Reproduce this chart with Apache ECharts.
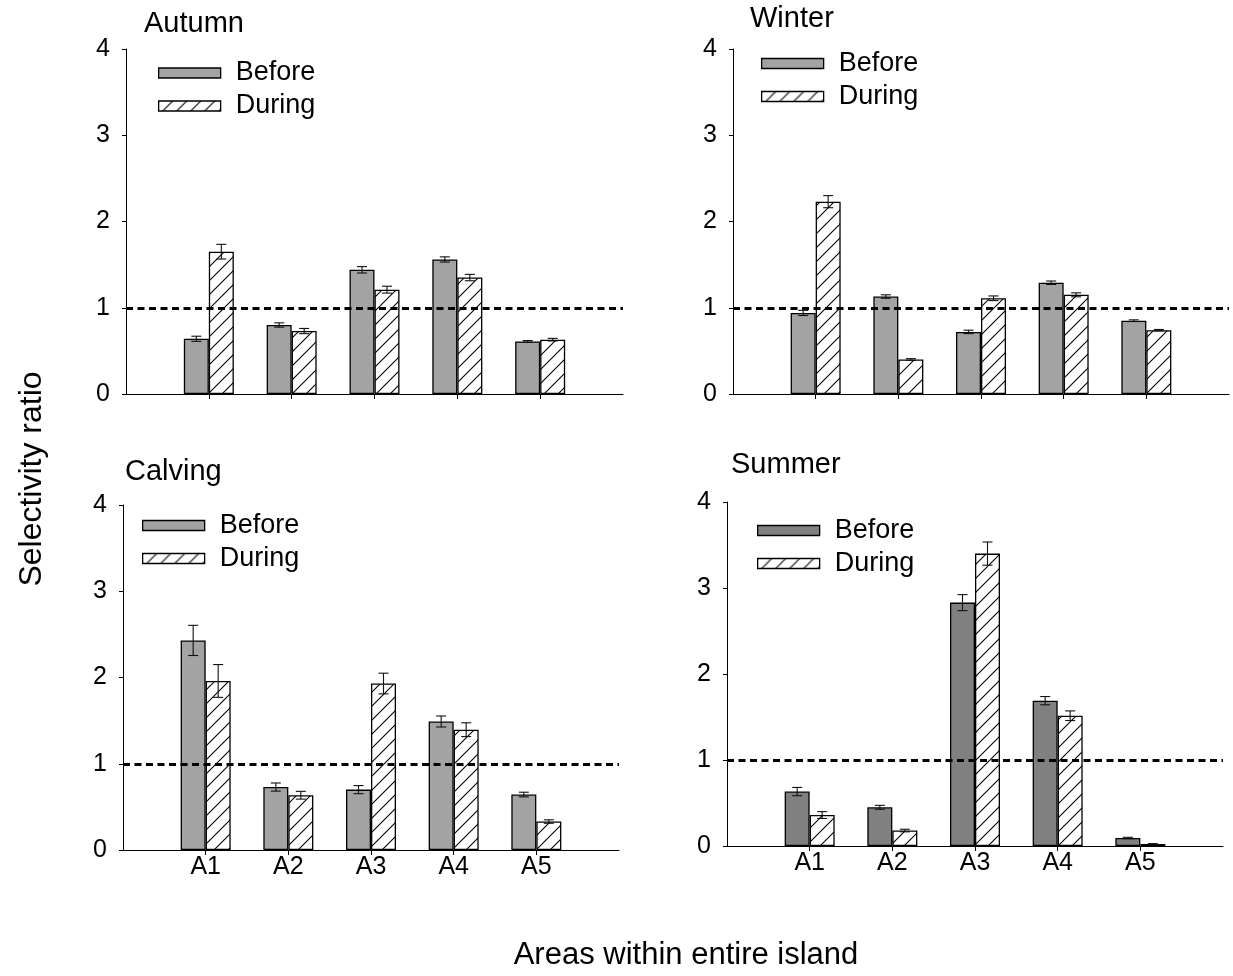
<!DOCTYPE html>
<html>
<head>
<meta charset="utf-8">
<script src="https://cdn.jsdelivr.net/npm/echarts@6/dist/echarts.min.js"></script>
<style>
html,body{margin:0;padding:0;background:#fff;}
#chart{width:1233px;height:976px;}
</style>
</head>
<body>
<div id="chart"></div>
<script>
// ---- data ----
const categories = ['A1', 'A2', 'A3', 'A4', 'A5'];
const yTicks = [0, 1, 2, 3, 4];
const panelTitles = ['Autumn', 'Winter', 'Calving', 'Summer'];
const seriesNames = ['Before', 'During'];

const autumnBefore = [0.64, 0.80, 1.44, 1.56, 0.61];
const autumnBeforeErr = [0.03, 0.025, 0.037, 0.03, 0.01];
const autumnDuring = [1.65, 0.73, 1.21, 1.35, 0.63];
const autumnDuringErr = [0.085, 0.03, 0.04, 0.037, 0.015];

const winterBefore = [0.94, 1.13, 0.72, 1.29, 0.85];
const winterBeforeErr = [0.03, 0.02, 0.02, 0.02, 0.01];
const winterDuring = [2.23, 0.40, 1.11, 1.15, 0.74];
const winterDuringErr = [0.07, 0.01, 0.027, 0.023, 0.008];

const calvingBefore = [2.43, 0.73, 0.70, 1.49, 0.643];
const calvingBeforeErr = [0.175, 0.047, 0.047, 0.064, 0.027];
const calvingDuring = [1.96, 0.635, 1.93, 1.395, 0.33];
const calvingDuringErr = [0.19, 0.045, 0.12, 0.08, 0.02];

const summerBefore = [0.633, 0.45, 2.83, 1.69, 0.093];
const summerBeforeErr = [0.048, 0.023, 0.093, 0.048, 0.008];
const summerDuring = [0.36, 0.18, 3.40, 1.515, 0.023];
const summerDuringErr = [0.04, 0.015, 0.135, 0.056, 0.005];

const referenceLevel = 1;

// ---- build ----
const FONT = 'Liberation Sans, Arial, sans-serif';
const paddedCats = [''].concat(categories, ['']);
function pad(arr) { return ['-'].concat(arr, ['-']); }

// hatch pattern
function makeHatch() {
  const s = 14;
  const c = document.createElement('canvas');
  c.width = s; c.height = s;
  const g = c.getContext('2d');
  g.fillStyle = '#ffffff';
  g.fillRect(0, 0, s, s);
  g.strokeStyle = '#000000';
  g.lineWidth = 1.1;
  for (let k = -1; k <= 1; k++) {
    g.beginPath();
    g.moveTo(-2, s + 2 + k * s);
    g.lineTo(s + 2, -2 + k * s);
    g.stroke();
  }
  return c;
}
const hatch = { image: makeHatch(), repeat: 'repeat' };

const panels = [
  { b: autumnBefore, be: autumnBeforeErr, d: autumnDuring, de: autumnDuringErr, color: '#a3a3a3',
    grid: { left: 126, top: 49, width: 497, height: 345 }, legend: { left: 158, top: 59.5 },
    title: { x: 144, y: 24 }, showX: false },
  { b: winterBefore, be: winterBeforeErr, d: winterDuring, de: winterDuringErr, color: '#a3a3a3',
    grid: { left: 733, top: 49, width: 496, height: 345 }, legend: { left: 761, top: 50 },
    title: { x: 750, y: 19 }, showX: false },
  { b: calvingBefore, be: calvingBeforeErr, d: calvingDuring, de: calvingDuringErr, color: '#a3a3a3',
    grid: { left: 123, top: 505, width: 496, height: 345 }, legend: { left: 142, top: 512 },
    title: { x: 125, y: 472 }, showX: true },
  { b: summerBefore, be: summerBeforeErr, d: summerDuring, de: summerDuringErr, color: '#808080',
    grid: { left: 727, top: 502, width: 496, height: 344 }, legend: { left: 757, top: 517 },
    title: { x: 731, y: 465 }, showX: true }
];

const grids = [], xAxes = [], yAxes = [], series = [], legends = [], graphics = [];

panels.forEach((p, i) => {
  grids.push(Object.assign({ containLabel: false }, p.grid));
  xAxes.push({
    type: 'category', gridIndex: i, data: paddedCats, boundaryGap: false,
    axisLine: { show: true, lineStyle: { color: '#000', width: 1 } },
    axisTick: { show: true, length: 5, lineStyle: { color: '#000' },
      interval: (idx, val) => val !== '' },
    axisLabel: { show: p.showX, interval: 0, color: '#000', fontSize: 25, fontFamily: FONT, margin: 5,
      formatter: v => v },
    splitLine: { show: false }
  });
  yAxes.push({
    type: 'value', gridIndex: i, min: yTicks[0], max: yTicks[yTicks.length - 1], interval: 1,
    axisLine: { show: true, lineStyle: { color: '#000', width: 1 } },
    axisTick: { show: true, length: 4, lineStyle: { color: '#000' } },
    axisLabel: { color: '#000', fontSize: 25, fontFamily: FONT, margin: 16 },
    splitLine: { show: false }
  });
  series.push({
    name: seriesNames[0], type: 'bar', xAxisIndex: i, yAxisIndex: i,
    data: pad(p.b), barWidth: 25, barGap: '0%', z: 2,
    itemStyle: { color: p.color, borderColor: '#000', borderWidth: 1.3 },
    emphasis: { disabled: true }
  });
  series.push({
    name: seriesNames[1], type: 'bar', xAxisIndex: i, yAxisIndex: i,
    data: pad(p.d), barWidth: 25, barGap: '0%', z: 2,
    itemStyle: { color: hatch, borderColor: '#000', borderWidth: 1.3 },
    emphasis: { disabled: true }
  });
  const errData = [];
  p.b.forEach((v, k) => errData.push([k + 1, v, p.be[k], -1]));
  p.d.forEach((v, k) => errData.push([k + 1, v, p.de[k], 1]));
  series.push({
    type: 'custom', xAxisIndex: i, yAxisIndex: i, z: 3, silent: true,
    data: errData,
    renderItem: function (params, api) {
      const x = api.value(0), v = api.value(1), e = api.value(2), s = api.value(3);
      const top = api.coord([x, v + e]);
      const bot = api.coord([x, v - e]);
      const cx = top[0] + s * 12.5;
      const st = { stroke: '#111', lineWidth: 1.1 };
      return { type: 'group', children: [
        { type: 'line', shape: { x1: cx, y1: top[1], x2: cx, y2: bot[1] }, style: st },
        { type: 'line', shape: { x1: cx - 5, y1: top[1], x2: cx + 5, y2: top[1] }, style: st },
        { type: 'line', shape: { x1: cx - 5, y1: bot[1], x2: cx + 5, y2: bot[1] }, style: st }
      ]};
    }
  });
  series.push({
    type: 'line', xAxisIndex: i, yAxisIndex: i, data: [], z: 5, silent: true,
    markLine: { silent: true, symbol: ['none', 'none'], label: { show: false },
      lineStyle: { color: '#000', width: 2.8, type: [7, 4.5] },
      data: [{ yAxis: referenceLevel }] }
  });
  legends.push({
    orient: 'vertical', left: p.legend.left, top: p.legend.top, padding: 0,
    itemWidth: 62, itemHeight: 10, itemGap: 6, icon: 'rect',
    selectedMode: false,
    textStyle: { fontSize: 27, color: '#000', fontFamily: FONT, padding: [0, 0, 0, 10] },
    data: [
      { name: seriesNames[0], itemStyle: { color: p.color, borderColor: '#000', borderWidth: 1.3 } },
      { name: seriesNames[1], itemStyle: { color: hatch, borderColor: '#000', borderWidth: 1.3 } }
    ]
  });
  graphics.push({
    type: 'text', left: p.title.x, top: p.title.y - 15,
    style: { text: panelTitles[i], font: '29px ' + FONT, fill: '#000' }
  });
});

graphics.push({
  type: 'text', x: 32, y: 479, rotation: Math.PI / 2,
  style: { text: 'Selectivity ratio', font: '32px ' + FONT, fill: '#000', align: 'center', verticalAlign: 'middle' }
});
graphics.push({
  type: 'text', x: 686, y: 955,
  style: { text: 'Areas within entire island', font: '31px ' + FONT, fill: '#000', align: 'center', verticalAlign: 'middle' }
});

const chart = echarts.init(document.getElementById('chart'), null, { renderer: 'canvas' });
chart.setOption({
  animation: false,
  backgroundColor: '#fff',
  grid: grids, xAxis: xAxes, yAxis: yAxes, series: series, legend: legends, graphic: graphics
});
</script>
</body>
</html>
